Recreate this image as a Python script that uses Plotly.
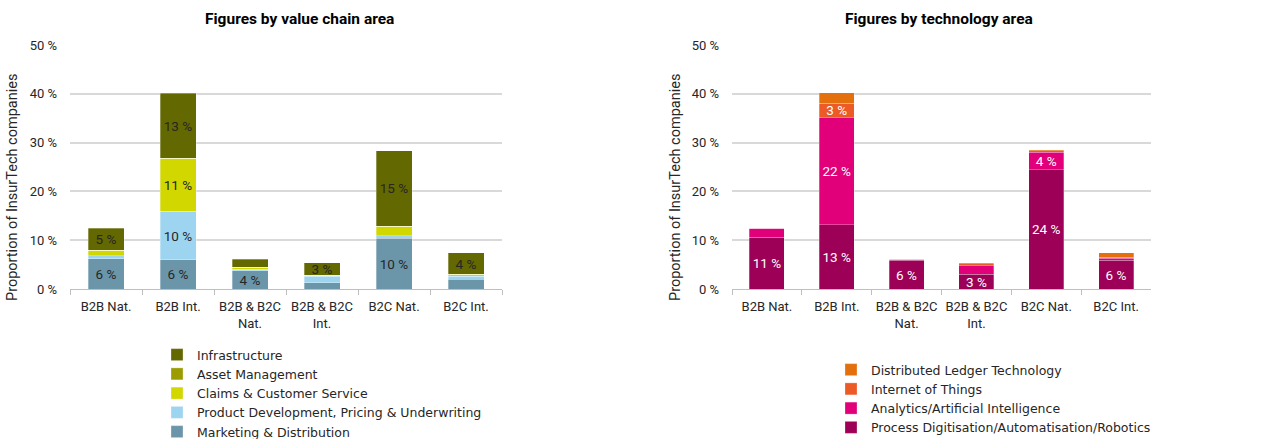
import plotly.graph_objects as go

W, H = 1269, 439

categories = ["B2B Nat.", "B2B Int.", "B2B & B2C<br>Nat.", "B2B & B2C<br>Int.", "B2C Nat.", "B2C Int."]

# Value chain area, share of InsurTech companies (%)
marketing_distribution = [6.2, 6.0, 3.7, 1.3, 10.4, 2.0]
product_dev_pricing_uw = [0.6, 9.9, 0.3, 1.3, 0.5, 0.6]
claims_customer_service = [1.1, 10.9, 0.5, 0.2, 2.0, 0.4]
asset_management = [0.0, 0.0, 0.0, 0.0, 0.0, 0.0]
infrastructure = [4.6, 13.3, 1.6, 2.6, 15.4, 4.4]

# Technology area, share of InsurTech companies (%)
process_digitisation = [10.6, 13.2, 5.9, 3.0, 24.4, 5.9]
analytics_ai = [1.8, 22.0, 0.2, 1.9, 3.6, 0.4]
internet_of_things = [0.0, 2.9, 0.0, 0.3, 0.3, 0.2]
distributed_ledger = [0.0, 2.1, 0.0, 0.2, 0.2, 0.9]

value_chain_series = [
    ("Marketing & Distribution", marketing_distribution, "#6b96aa"),
    ("Product Development, Pricing & Underwriting", product_dev_pricing_uw, "#9dd5f0"),
    ("Claims & Customer Service", claims_customer_service, "#d2d700"),
    ("Asset Management", asset_management, "#9a9c00"),
    ("Infrastructure", infrastructure, "#646800"),
]
technology_series = [
    ("Process Digitisation/Automatisation/Robotics", process_digitisation, "#9d0057"),
    ("Analytics/Artificial Intelligence", analytics_ai, "#e2007a"),
    ("Internet of Things", internet_of_things, "#ec5a25"),
    ("Distributed Ledger Technology", distributed_ledger, "#e3700c"),
]

FONT = "Roboto"
LEGEND_FONT = "DejaVu Sans"
TEXT = "#262626"
GRID = "#d9d9d9"


def seg_labels(values):
    # only segments tall enough get a value label
    return [f"{int(v + 0.5)} %" if v >= 2.5 else "" for v in values]


fig = go.Figure()

for name, vals, color in value_chain_series:
    fig.add_trace(go.Bar(
        x=categories, y=vals, name=name,
        marker=dict(color=color, line=dict(color="rgba(255,255,255,0.5)", width=0.6)),
        text=seg_labels(vals), textposition="inside", insidetextanchor="middle",
        textangle=0, constraintext="none",
        textfont=dict(family=FONT, size=13.5, color=TEXT),
        xaxis="x", yaxis="y", legend="legend",
    ))

for name, vals, color in technology_series:
    fig.add_trace(go.Bar(
        x=categories, y=vals, name=name,
        marker=dict(color=color, line=dict(color="rgba(255,255,255,0.45)", width=0.6)),
        text=seg_labels(vals), textposition="inside", insidetextanchor="middle",
        textangle=0, constraintext="none",
        textfont=dict(family=FONT, size=13.5, color="white"),
        xaxis="x2", yaxis="y2", legend="legend2",
    ))

ydom = [1 - 289 / H, 1 - 45 / H]


def xaxis_cfg(x0, x1, anchor):
    return dict(
        domain=[x0 / W, x1 / W], anchor=anchor, showgrid=False,
        showline=True, linecolor="#bfbfbf", linewidth=1,
        ticks="outside", tickson="boundaries", ticklen=5, tickcolor="#bfbfbf",
        tickangle=0, ticklabelstandoff=5,
        tickfont=dict(family=FONT, size=13, color=TEXT), automargin=False,
        fixedrange=True,
    )


def yaxis_cfg(anchor):
    return dict(
        domain=ydom, anchor=anchor, range=[0, 50], dtick=10,
        ticksuffix=" %", showgrid=True, gridcolor=GRID, gridwidth=1.5,
        zeroline=False, showline=False, ticks="",
        ticklabelstandoff=12,
        tickfont=dict(family=FONT, size=13, color=TEXT), automargin=False,
        fixedrange=True,
    )


fig.update_layout(
    width=W, height=H,
    margin=dict(l=0, r=0, t=0, b=0, autoexpand=False),
    barmode="stack", bargap=0.5,
    paper_bgcolor="white", plot_bgcolor="white",
    font=dict(family=FONT, size=13, color=TEXT),
    xaxis=xaxis_cfg(70, 502, "y"),
    yaxis=yaxis_cfg("x"),
    xaxis2=xaxis_cfg(732, 1151, "y2"),
    yaxis2=yaxis_cfg("x2"),
    legend=dict(
        x=157 / W, y=1 - 340 / H, xanchor="left", yanchor="top",
        traceorder="reversed", bgcolor="rgba(0,0,0,0)",
        font=dict(family=LEGEND_FONT, size=12.5, color=TEXT), tracegroupgap=0,
    ),
    legend2=dict(
        x=831 / W, y=1 - 355 / H, xanchor="left", yanchor="top",
        traceorder="reversed", bgcolor="rgba(0,0,0,0)",
        font=dict(family=LEGEND_FONT, size=12.5, color=TEXT), tracegroupgap=0,
    ),
    showlegend=True,
    annotations=[
        dict(text="<b>Figures by value chain area</b>", x=299 / W, y=1 - 19 / H,
             xref="paper", yref="paper", showarrow=False,
             xanchor="center", yanchor="middle",
             font=dict(family=FONT, size=15.5, color="#000000")),
        dict(text="<b>Figures by technology area</b>", x=939 / W, y=1 - 19 / H,
             xref="paper", yref="paper", showarrow=False,
             xanchor="center", yanchor="middle",
             font=dict(family=FONT, size=15.5, color="#000000")),
        dict(text="Proportion of InsurTech companies", x=12 / W, y=1 - 188 / H,
             xref="paper", yref="paper", showarrow=False, textangle=-90,
             xanchor="center", yanchor="middle",
             font=dict(family=FONT, size=14.5, color=TEXT)),
        dict(text="Proportion of InsurTech companies", x=675 / W, y=1 - 188 / H,
             xref="paper", yref="paper", showarrow=False, textangle=-90,
             xanchor="center", yanchor="middle",
             font=dict(family=FONT, size=14.5, color=TEXT)),
    ],
)

fig.write_html("out.html")
